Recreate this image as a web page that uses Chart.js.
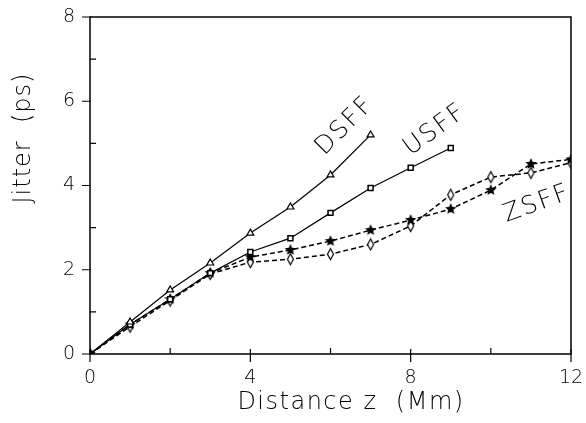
<!DOCTYPE html>
<html>
<head>
<meta charset="utf-8">
<script src="https://cdn.jsdelivr.net/npm/chart.js@4"></script>
<style>
  html, body { margin: 0; padding: 0; background: #fff; }
  #wrap { width: 586px; height: 423px; }
</style>
</head>
<body>
<div id="wrap"><canvas id="chart" width="586" height="423"></canvas></div>
<script>
// distance z (Mm)
const zDsff = [0, 1, 2, 3, 4, 5, 6, 7];
const jitterDsff = [0, 0.76, 1.52, 2.16, 2.87, 3.49, 4.25, 5.2];

const zUsff = [0, 1, 2, 3, 4, 5, 6, 7, 8, 9];
const jitterUsff = [0, 0.7, 1.3, 1.92, 2.42, 2.75, 3.35, 3.94, 4.42, 4.89];

const zZsff = [0, 1, 2, 3, 4, 5, 6, 7, 8, 9, 10, 11, 12];
const jitterZsffStar = [0, 0.7, 1.3, 1.92, 2.3, 2.47, 2.68, 2.94, 3.18, 3.44, 3.89, 4.51, 4.62];
const jitterZsffDiamond = [0, 0.65, 1.27, 1.9, 2.18, 2.25, 2.37, 2.6, 3.04, 3.78, 4.2, 4.3, 4.54];

const xTickLabels = [0, 4, 8, 12];
const yTickLabels = [0, 2, 4, 6, 8];

const FONT = '"DejaVu Sans", "Liberation Sans", sans-serif';

function pts(xs, ys) {
  return xs.map((x, i) => ({ x: x, y: ys[i] }));
}

// filled star marker
function makeStar(r) {
  const c = document.createElement('canvas');
  c.width = c.height = r * 2 + 2;
  const g = c.getContext('2d');
  g.fillStyle = '#000';
  g.beginPath();
  for (let i = 0; i < 10; i++) {
    const rr = i % 2 === 0 ? r : r * 0.45;
    const a = -Math.PI / 2 + i * Math.PI / 5;
    const px = r + 1 + rr * Math.cos(a);
    const py = r + 1 + rr * Math.sin(a);
    if (i === 0) g.moveTo(px, py); else g.lineTo(px, py);
  }
  g.closePath();
  g.fill();
  return c;
}

// narrow open diamond marker
function makeDiamond(w, h) {
  const c = document.createElement('canvas');
  c.width = w * 2 + 3;
  c.height = h * 2 + 3;
  const g = c.getContext('2d');
  const cx = c.width / 2, cy = c.height / 2;
  g.fillStyle = '#fff';
  g.strokeStyle = '#000';
  g.lineWidth = 1.2;
  g.beginPath();
  g.moveTo(cx, cy - h);
  g.lineTo(cx + w, cy);
  g.lineTo(cx, cy + h);
  g.lineTo(cx - w, cy);
  g.closePath();
  g.fill();
  g.stroke();
  return c;
}

const starImg = makeStar(6);
const diamondImg = makeDiamond(3, 5.5);

function spacedText(ctx, text, x, y, spacing) {
  ctx.letterSpacing = spacing + 'px';
  ctx.fillText(text, x, y);
  ctx.letterSpacing = '0px';
}

// box, ticks (major cross the axis, minor inside), titles and curve labels
const framePlugin = {
  id: 'frame',
  afterDraw(chart) {
    const ctx = chart.ctx;
    const a = chart.chartArea;
    const xs = chart.scales.x, ys = chart.scales.y;
    ctx.save();
    ctx.strokeStyle = '#000';
    ctx.lineWidth = 1.5;
    ctx.strokeRect(a.left, a.top, a.right - a.left, a.bottom - a.top);
    ctx.lineWidth = 1.2;
    ctx.beginPath();
    for (let v = 0; v <= 12; v += 2) {
      const px = xs.getPixelForValue(v);
      if (v % 4 === 0) {
        ctx.moveTo(px, a.bottom - 5);
        ctx.lineTo(px, a.bottom + 8);
      } else {
        ctx.moveTo(px, a.bottom - 6);
        ctx.lineTo(px, a.bottom);
      }
    }
    for (let v = 0; v <= 8; v += 1) {
      const py = ys.getPixelForValue(v);
      if (v % 2 === 0) {
        ctx.moveTo(a.left - 8, py);
        ctx.lineTo(a.left + 1, py);
      } else {
        ctx.moveTo(a.left, py);
        ctx.lineTo(a.left + 6, py);
      }
    }
    ctx.stroke();

    ctx.fillStyle = '#000';
    ctx.textAlign = 'center';
    ctx.textBaseline = 'middle';

    // axis titles
    ctx.font = '200 24px ' + FONT;
    spacedText(ctx, 'Distance z  (Mm)', 351, 403, 1.5);
    ctx.save();
    ctx.translate(24, 138);
    ctx.rotate(-Math.PI / 2);
    spacedText(ctx, 'Jitter  (ps)', 0, 0, 1);
    ctx.restore();

    // curve labels
    ctx.font = '200 25px ' + FONT;
    const labels = [
      ['DSFF', 345, 126, -45],
      ['USFF', 435, 130, -36],
      ['ZSFF', 537, 204, -20]
    ];
    labels.forEach(l => {
      ctx.save();
      ctx.translate(l[1], l[2]);
      ctx.rotate(l[3] * Math.PI / 180);
      spacedText(ctx, l[0], 0, 0, 2);
      ctx.restore();
    });
    ctx.restore();
  }
};

new Chart(document.getElementById('chart'), {
  type: 'line',
  data: {
    datasets: [
      {
        label: 'DSFF',
        data: pts(zDsff, jitterDsff),
        borderColor: '#000',
        borderWidth: 1.2,
        pointStyle: 'triangle',
        pointRadius: 4,
        pointBackgroundColor: '#fff',
        pointBorderColor: '#000',
        pointBorderWidth: 1.2
      },
      {
        label: 'USFF',
        data: pts(zUsff, jitterUsff),
        borderColor: '#000',
        borderWidth: 1.2,
        pointStyle: 'rect',
        pointRadius: 3.5,
        pointBackgroundColor: '#fff',
        pointBorderColor: '#000',
        pointBorderWidth: 1.5
      },
      {
        label: 'ZSFF star',
        data: pts(zZsff, jitterZsffStar),
        borderColor: '#000',
        borderWidth: 1.5,
        borderDash: [5, 3],
        pointStyle: starImg
      },
      {
        label: 'ZSFF diamond',
        data: pts(zZsff, jitterZsffDiamond),
        borderColor: '#000',
        borderWidth: 1.5,
        borderDash: [5, 3],
        pointStyle: diamondImg
      }
    ]
  },
  options: {
    responsive: false,
    animation: false,
    events: [],
    layout: { padding: { top: 17, right: 15, left: 0, bottom: 0 } },
    plugins: {
      legend: { display: false },
      tooltip: { enabled: false }
    },
    scales: {
      x: {
        type: 'linear',
        min: 0,
        max: 12,
        afterBuildTicks: s => { s.ticks = xTickLabels.map(v => ({ value: v })); },
        afterFit: s => { s.height = 69; s.paddingLeft = 0; s.paddingRight = 0; },
        grid: { display: false, drawTicks: false },
        border: { display: false },
        ticks: {
          color: '#000',
          padding: 13,
          maxRotation: 0,
          font: { family: FONT, size: 19, weight: 200 }
        }
      },
      y: {
        type: 'linear',
        min: 0,
        max: 8,
        afterBuildTicks: s => { s.ticks = yTickLabels.map(v => ({ value: v })); },
        afterFit: s => { s.width = 90; s.paddingTop = 0; s.paddingBottom = 0; },
        grid: { display: false, drawTicks: false },
        border: { display: false },
        ticks: {
          color: '#000',
          padding: 15,
          font: { family: FONT, size: 19, weight: 200 }
        }
      }
    }
  },
  plugins: [framePlugin]
});
</script>
</body>
</html>
